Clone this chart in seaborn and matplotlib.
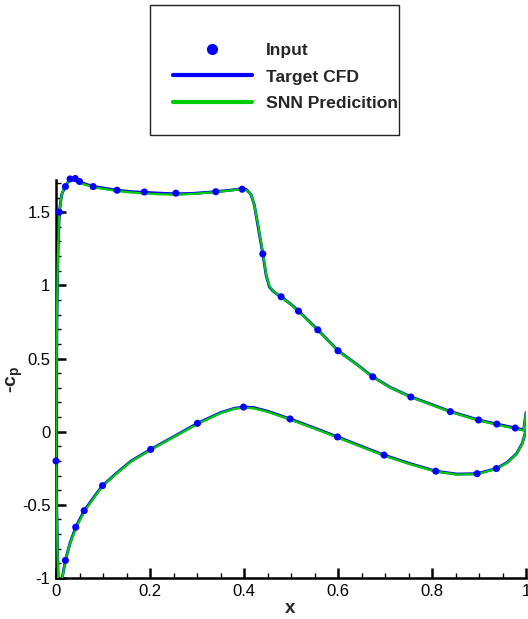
import numpy as np
import pandas as pd
import matplotlib
matplotlib.use('Agg')
import matplotlib.pyplot as plt
from matplotlib.patches import Rectangle
from matplotlib.lines import Line2D
from matplotlib.ticker import MultipleLocator, FuncFormatter
import seaborn as sns

# Input points (sampled pressure coefficients)
input_x = [0.0, 0.007, 0.02, 0.03, 0.041, 0.05, 0.079, 0.13, 0.188, 0.255, 0.34, 0.396,
           0.44, 0.479, 0.516, 0.557, 0.60, 0.674, 0.755, 0.839, 0.899, 0.938, 0.977,
           0.02, 0.042, 0.06, 0.099, 0.2015, 0.301, 0.399, 0.498, 0.599, 0.698, 0.808,
           0.896, 0.937]
input_cp = [-0.2, 1.5, 1.675, 1.727, 1.73, 1.71, 1.675, 1.65, 1.638, 1.63, 1.64, 1.657,
            1.215, 0.922, 0.824, 0.696, 0.553, 0.375, 0.237, 0.137, 0.08, 0.052, 0.025,
            -0.88, -0.653, -0.54, -0.369, -0.121, 0.057, 0.168, 0.087, -0.036, -0.16, -0.27,
            -0.287, -0.252]

# Target CFD, upper surface
upper_x = [0.0, 0.001, 0.002, 0.004, 0.007, 0.012, 0.02, 0.03, 0.04, 0.05, 0.065, 0.08,
           0.10, 0.13, 0.16, 0.19, 0.22, 0.255, 0.29, 0.34, 0.37, 0.396, 0.405, 0.415,
           0.422, 0.43, 0.44, 0.447, 0.454, 0.462, 0.47, 0.479, 0.50, 0.516, 0.535, 0.557,
           0.58, 0.60, 0.64, 0.674, 0.71, 0.755, 0.80, 0.839, 0.87, 0.899, 0.938, 0.977,
           0.995, 1.0]
upper_cp = [-0.2, 0.3, 0.8, 1.2, 1.5, 1.62, 1.68, 1.725, 1.72, 1.705, 1.69, 1.675,
            1.665, 1.65, 1.64, 1.635, 1.63, 1.625, 1.628, 1.64, 1.65, 1.66, 1.655, 1.62,
            1.55, 1.40, 1.215, 1.07, 0.99, 0.96, 0.94, 0.922, 0.87, 0.826, 0.765, 0.697,
            0.62, 0.554, 0.46, 0.375, 0.305, 0.238, 0.185, 0.138, 0.108, 0.08, 0.052, 0.025,
            0.012, 0.13]

# Target CFD, lower surface
lower_x = [0.0, 0.003, 0.005, 0.008, 0.012, 0.02, 0.03, 0.042, 0.06, 0.08, 0.099, 0.13,
           0.16, 0.2015, 0.25, 0.301, 0.35, 0.38, 0.40, 0.42, 0.45, 0.498, 0.55, 0.599,
           0.65, 0.698, 0.75, 0.808, 0.853, 0.896, 0.937, 0.96, 0.98, 0.992, 1.0]
lower_cp = [-0.2, -0.8, -1.05, -1.1, -1.02, -0.88, -0.76, -0.653, -0.54, -0.45, -0.369, -0.28,
            -0.2, -0.121, -0.035, 0.057, 0.13, 0.16, 0.168, 0.165, 0.14, 0.087, 0.025, -0.036,
            -0.1, -0.16, -0.215, -0.27, -0.29, -0.287, -0.252, -0.21, -0.15, -0.08, 0.01]

# SNN prediction (nearly on top of the CFD result)
snn_upper_cp = [-0.2, 0.3, 0.8, 1.2, 1.49, 1.62, 1.685, 1.72, 1.715, 1.70, 1.685, 1.67,
                1.66, 1.645, 1.635, 1.628, 1.622, 1.62, 1.625, 1.638, 1.648, 1.658, 1.652, 1.62,
                1.55, 1.41, 1.225, 1.075, 0.995, 0.962, 0.94, 0.92, 0.868, 0.823, 0.762, 0.695,
                0.618, 0.552, 0.458, 0.373, 0.303, 0.236, 0.182, 0.135, 0.105, 0.077, 0.048, 0.02,
                0.008, 0.13]
snn_lower_cp = [-0.2, -0.8, -1.05, -1.1, -1.02, -0.885, -0.765, -0.66, -0.548, -0.455, -0.372, -0.283,
                -0.203, -0.124, -0.038, 0.053, 0.127, 0.157, 0.164, 0.16, 0.136, 0.083, 0.021, -0.04,
                -0.104, -0.164, -0.219, -0.273, -0.293, -0.29, -0.255, -0.213, -0.153, -0.083, 0.01]

blue = '#0000ff'
green = '#00cc00'

sns.set_style('ticks')
plt.rcParams['font.family'] = ['Liberation Sans', 'DejaVu Sans']
plt.rcParams['axes.unicode_minus'] = False
plt.rcParams['mathtext.fontset'] = 'custom'
plt.rcParams['mathtext.rm'] = 'Liberation Sans'
plt.rcParams['mathtext.bf'] = 'Liberation Sans:bold'

fig = plt.figure(figsize=(5.28, 6.19), dpi=100)
ax = fig.add_axes([56 / 528, 41 / 619, 470 / 528, 398 / 619])

upper_df = pd.DataFrame({'x': upper_x, 'cp': upper_cp, 'snn': snn_upper_cp})
lower_df = pd.DataFrame({'x': lower_x, 'cp': lower_cp, 'snn': snn_lower_cp})
input_df = pd.DataFrame({'x': input_x, 'cp': input_cp})

for df in (upper_df, lower_df):
    sns.lineplot(data=df, x='x', y='cp', sort=False, color=blue, lw=2.1, ax=ax, zorder=2)
for df in (upper_df, lower_df):
    sns.lineplot(data=df, x='x', y='snn', sort=False, color=green, lw=1.6, ax=ax, zorder=3)
sns.scatterplot(data=input_df, x='x', y='cp', color=blue, s=26, edgecolor='none',
                ax=ax, zorder=4, clip_on=False)

ax.set_xlim(0, 1)
ax.set_ylim(-1, 1.72)
sns.despine(ax=ax)
for side in ('left', 'bottom'):
    ax.spines[side].set_linewidth(1.8)
    ax.spines[side].set_color('black')

ax.xaxis.set_major_locator(MultipleLocator(0.2))
ax.xaxis.set_minor_locator(MultipleLocator(0.05))
ax.yaxis.set_major_locator(MultipleLocator(0.5))
ax.yaxis.set_minor_locator(MultipleLocator(0.1))
fmt = FuncFormatter(lambda v, p: ('%g' % round(v, 2)))
ax.xaxis.set_major_formatter(fmt)
ax.yaxis.set_major_formatter(fmt)
ax.tick_params(which='major', direction='in', length=7, width=1.8, labelsize=12,
               colors='black', pad=4)
ax.tick_params(which='minor', direction='in', length=3.5, width=1.0, colors='black')

ax.set_xlabel('x', fontsize=13.5, fontweight='bold')
ax.set_ylabel(r'-c$_\mathbf{p}$', fontsize=14, fontweight='bold')
ax.xaxis.set_label_coords(0.497, -0.056)
ax.yaxis.set_label_coords(-0.066, 0.5)

# legend box
fig.patches.append(Rectangle((150 / 528, 1 - 135 / 619), 249 / 528, 130 / 619,
                             transform=fig.transFigure, facecolor='white',
                             edgecolor='#222222', lw=1.0))
handles = [Line2D([], [], marker='o', ls='none', color=blue, markersize=7),
           Line2D([], [], color=blue, lw=3),
           Line2D([], [], color=green, lw=3)]
labels = ['Input', 'Target CFD', 'SNN Predicition']
fig.legend(handles, labels, loc='upper left', bbox_to_anchor=(173 / 528, 1 - 43 / 619),
           frameon=False, handlelength=4.5, handletextpad=0.8, labelspacing=0.63,
           prop={'weight': 'bold', 'size': 12.6}, borderaxespad=0, borderpad=0)

fig.savefig('out.png', dpi=100)
